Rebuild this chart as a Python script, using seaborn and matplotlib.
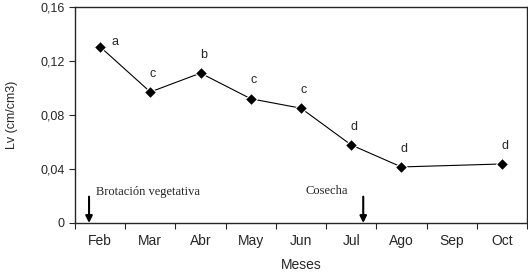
import pandas as pd
import numpy as np
import matplotlib
matplotlib.use('Agg')
import matplotlib.pyplot as plt
import seaborn as sns

# datos
meses = ['Feb', 'Mar', 'Abr', 'May', 'Jun', 'Jul', 'Ago', 'Sep', 'Oct']
lv = [0.1305, 0.097, 0.111, 0.092, 0.085, 0.0578, 0.0415, np.nan, 0.0437]
letras = ['a', 'c', 'b', 'c', 'c', 'd', 'd', '', 'd']
eventos = ['Brotación vegetativa', 'Cosecha']
pos_eventos = [-0.22, 5.24]

df = pd.DataFrame({'mes': meses, 'pos': range(len(meses)), 'lv': lv, 'letra': letras})
df_ok = df.dropna()

sns.set_style('ticks')
plt.rcParams['font.family'] = ['Liberation Sans', 'DejaVu Sans']

fig, ax = plt.subplots(figsize=(5.28, 2.77), dpi=100)
fig.subplots_adjust(left=0.142, right=0.998, top=0.975, bottom=0.195)

sns.lineplot(data=df_ok, x='pos', y='lv', marker='D', color='black',
             markersize=6, linewidth=0.8, ax=ax)

for _, r in df_ok.iterrows():
    ax.annotate(r['letra'], (r['pos'], r['lv']), textcoords='offset points',
                xytext=(2, 11), fontsize=9, ha='center')
ax.texts[0].set_position((11, 1))  # la 'a' va a la derecha

for nombre, x in zip(eventos, pos_eventos):
    ax.annotate('', xy=(x, 0), xytext=(x, 0.0195),
                arrowprops=dict(arrowstyle='-|>', color='black', lw=1.5,
                                mutation_scale=10, shrinkA=0, shrinkB=0))
ax.text(-0.09, 0.0185, eventos[0], fontsize=9, family='Liberation Serif', va='bottom')
ax.text(4.1, 0.0195, eventos[1], fontsize=9, family='Liberation Serif', va='bottom')

ax.set_xlim(-0.5, 8.5)
ax.set_ylim(0, 0.16)
ax.set_yticks([0, 0.04, 0.08, 0.12, 0.16])
ax.set_yticklabels(['0', '0,04', '0,08', '0,12', '0,16'], fontsize=9)
ax.set_xticks(np.arange(-0.5, 9, 1))
ax.set_xticklabels([])
ax.set_xticks(range(len(meses)), minor=True)
ax.set_xticklabels(meses, minor=True, fontsize=10)
ax.tick_params(axis='x', which='minor', length=0, pad=8)
ax.tick_params(axis='both', which='major', length=4, width=0.8, direction='out')
ax.set_xlabel('Meses', fontsize=10, labelpad=7)
ax.set_ylabel('Lv (cm/cm3)', fontsize=9, labelpad=16)
for s in ax.spines.values():
    s.set_linewidth(1.0)
    s.set_visible(True)

plt.savefig('out.png', dpi=100)
